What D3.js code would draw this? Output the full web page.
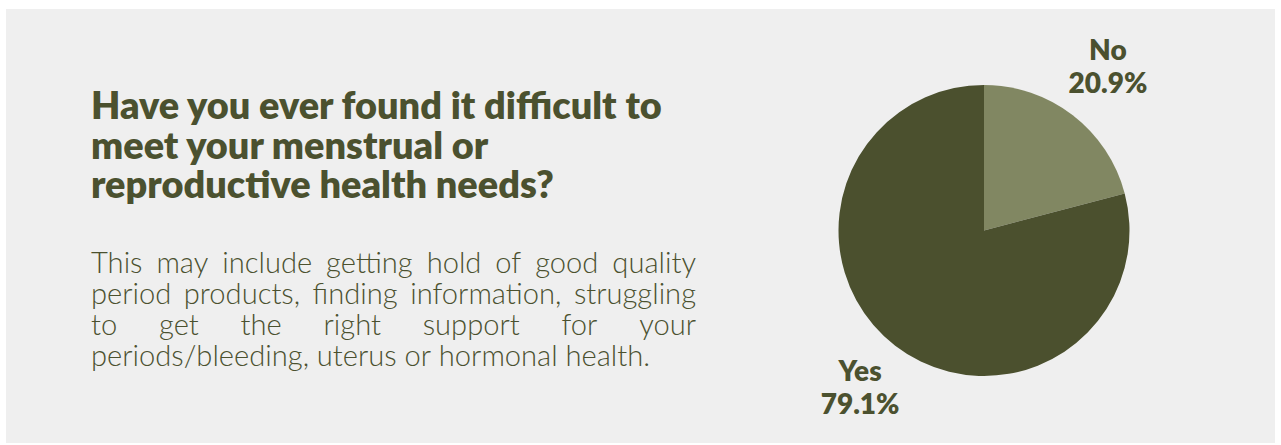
<!DOCTYPE html>
<html>
<head>
<meta charset="utf-8">
<script src="https://cdn.jsdelivr.net/npm/d3@7"></script>
<style>
  html, body { margin: 0; padding: 0; background: #ffffff; }
  svg { display: block; }
</style>
</head>
<body>
<svg id="chart" width="1281" height="445"></svg>
<script>
// Survey answers and their shares (percent)
const categories = ["No", "Yes"];
const values = [20.9, 79.1];
const sliceColors = ["#818762", "#4b502e"];

const titleLines = [
  "Have you ever found it difficult to",
  "meet your menstrual or",
  "reproductive health needs?"
];
const bodyLines = [
  "This may include getting hold of good quality",
  "period products, finding information, struggling",
  "to get the right support for your",
  "periods/bleeding, uterus or hormonal health."
];

const ink = "#4b512f";
const svg = d3.select("#chart");

// panel background
svg.append("rect")
  .attr("x", 6).attr("y", 9)
  .attr("width", 1269).attr("height", 434)
  .attr("fill", "#efefef");

// ---- title ----
const textX = 91;
const titleFont = "'Lato', 'Open Sans', sans-serif";
const titleBaselines = [119, 159, 198];
const titleTexts = svg.append("g").selectAll("text")
  .data(titleLines)
  .join("text")
  .attr("x", textX)
  .attr("y", (d, i) => titleBaselines[i])
  .attr("fill", ink)
  .attr("font-family", titleFont)
  .attr("font-weight", 800)
  .attr("font-size", 30)
  .text(d => d);
// size title so the first line spans its column
{
  const w = titleTexts.node().getComputedTextLength();
  titleTexts.attr("font-size", 30 * 571 / w);
}

// ---- justified description ----
const bodyFont = "'Lato', 'Open Sans', sans-serif";
const bodyBaselines = [273, 304, 335, 366];
const colWidth = 605;
const body = svg.append("g")
  .attr("fill", ink)
  .attr("font-family", bodyFont)
  .attr("font-weight", 300);

// pick a font size from the last (unjustified) line
const probe = body.append("text").attr("font-size", 24).text(bodyLines[3]);
const bodySize = 24 * 559 / probe.node().getComputedTextLength();
probe.remove();
body.attr("font-size", bodySize);

// one text element per word, spread across the column width
bodyLines.forEach((line, li) => {
  const words = line.split(" ");
  const row = body.append("g");
  const wordEls = row.selectAll("text").data(words).join("text")
    .attr("y", bodyBaselines[li])
    .text(d => d);
  const widths = wordEls.nodes().map(n => n.getComputedTextLength());
  const total = d3.sum(widths);
  const last = li === bodyLines.length - 1;
  const natural = (559 - total) / (words.length - 1);
  const space = last ? natural : (colWidth - total) / (words.length - 1);
  let x = textX;
  wordEls.attr("x", (d, i) => {
    const px = x;
    x += widths[i] + space;
    return px;
  });
});

// ---- pie ----
const cx = 984, cy = 230.5, r = 145.5;
const pie = d3.pie().sort(null).value(d => d)(values);
const arc = d3.arc().innerRadius(0).outerRadius(r);
const labelArc = d3.arc().innerRadius(203).outerRadius(203);

const g = svg.append("g").attr("transform", `translate(${cx},${cy})`);
g.selectAll("path")
  .data(pie)
  .join("path")
  .attr("d", arc)
  .attr("fill", (d, i) => sliceColors[i]);

const labels = g.selectAll("g.lbl")
  .data(pie)
  .join("g")
  .attr("class", "lbl")
  .attr("transform", d => {
    const [x, y] = labelArc.centroid(d);
    return `translate(${x},${y})`;
  })
  .attr("fill", ink)
  .attr("font-family", titleFont)
  .attr("font-weight", 800)
  .attr("font-size", 28)
  .attr("text-anchor", "middle");
labels.append("text")
  .attr("y", -10)
  .text((d, i) => categories[i]);
labels.append("text")
  .attr("y", 23)
  .text(d => d.data.toFixed(1) + "%");
</script>
</body>
</html>
